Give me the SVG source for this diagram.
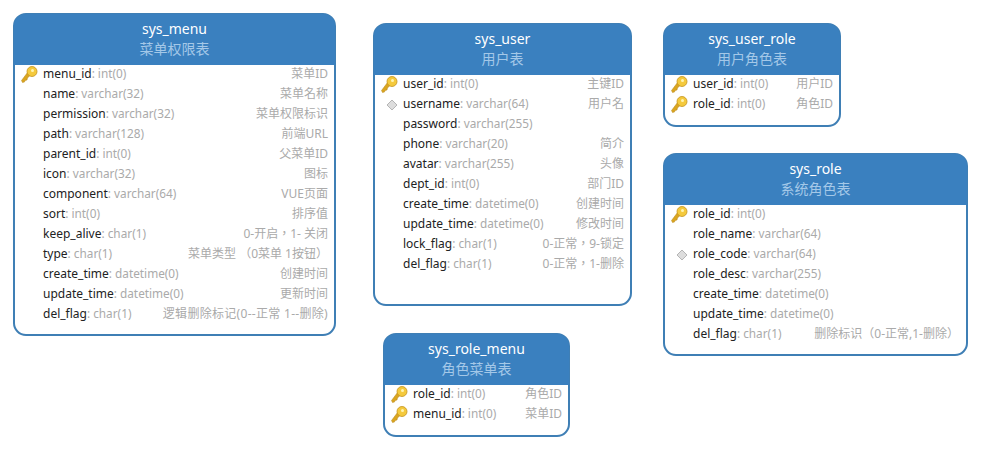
<svg xmlns="http://www.w3.org/2000/svg" width="981" height="450" viewBox="0 0 981 450">
<style>
text{font-family:"Noto Sans","Noto Sans CJK TC",sans-serif;font-size:12px;font-variant-ligatures:none}
.box{fill:#fff;stroke:#3f7fb5;stroke-width:2}
.head{fill:#3a80bf}
.title{font-size:14px;fill:#fff;text-anchor:middle}
.sub{font-size:14px;fill:#a4c8e8;text-anchor:middle}
.f{fill:#222}
.f tspan{fill:#aaa;font-size:11.800px}
.c{fill:#aaa;text-anchor:end}
.w{letter-spacing:.3px}
</style>
<defs>
<g id="key">
<path d="M-7.500 6.500L-6.500 8.500L-4.500 8L-4 6.500L-2 6L-1.500 4L1 1.500L-1.500-1.500Z" fill="#d9a520" stroke="#b8861a" stroke-width=".5"/>
<circle cx="3" cy="-2.500" r="5" fill="#f4c93c" stroke="#c4931c" stroke-width=".8"/>
<circle cx="3.500" cy="-3.500" r="1.500" fill="#fff3b0"/>
</g>
<path id="dia" d="M0-5L5 0L0 5L-5 0Z" fill="#ddd" stroke="#b5b5b5"/>
</defs>
<g id="connectors"/>

<g id="sys_menu">
<rect class="box" x="14" y="14" width="321" height="321" rx="12"/>
<path class="head" d="M14 65V26a12 12 0 0 1 12-12H323a12 12 0 0 1 12 12V65Z"/>
<text class="title" x="174.500" y="34">sys_menu</text>
<text class="sub" x="174.500" y="54">菜单权限表</text>
<use href="#key" x="29" y="74"/>
<text class="f" x="43" y="78">menu_id<tspan>: int(0)</tspan></text><text class="c" x="328" y="78">菜单ID</text>
<text class="f" x="43" y="98">name<tspan>: varchar(32)</tspan></text><text class="c" x="328" y="98">菜单名称</text>
<text class="f" x="43" y="118">permission<tspan>: varchar(32)</tspan></text><text class="c" x="328" y="118">菜单权限标识</text>
<text class="f" x="43" y="138">path<tspan>: varchar(128)</tspan></text><text class="c" x="328" y="138">前端URL</text>
<text class="f" x="43" y="158">parent_id<tspan>: int(0)</tspan></text><text class="c" x="328" y="158">父菜单ID</text>
<text class="f" x="43" y="178">icon<tspan>: varchar(32)</tspan></text><text class="c" x="328" y="178">图标</text>
<text class="f" x="43" y="198">component<tspan>: varchar(64)</tspan></text><text class="c" x="328" y="198">VUE页面</text>
<text class="f" x="43" y="218">sort<tspan>: int(0)</tspan></text><text class="c" x="328" y="218">排序值</text>
<text class="f" x="43" y="238">keep_alive<tspan>: char(1)</tspan></text><text class="c" x="328" y="238">0-开启，1- 关闭</text>
<text class="f" x="43" y="258">type<tspan>: char(1)</tspan></text><text class="c" x="328" y="258">菜单类型 （0菜单 1按钮）</text>
<text class="f" x="43" y="278">create_time<tspan>: datetime(0)</tspan></text><text class="c" x="328" y="278">创建时间</text>
<text class="f" x="43" y="298">update_time<tspan>: datetime(0)</tspan></text><text class="c" x="328" y="298">更新时间</text>
<text class="f" x="43" y="318">del_flag<tspan>: char(1)</tspan></text><text class="c w" x="328" y="318">逻辑删除标记(0--正常 1--删除)</text>
</g>

<g id="sys_user">
<rect class="box" x="374" y="24" width="257" height="281" rx="12"/>
<path class="head" d="M374 75V36a12 12 0 0 1 12-12H619a12 12 0 0 1 12 12V75Z"/>
<text class="title" x="502.500" y="44">sys_user</text>
<text class="sub" x="502.500" y="64">用户表</text>
<use href="#key" x="389" y="84"/>
<text class="f" x="403" y="88">user_id<tspan>: int(0)</tspan></text><text class="c" x="624" y="88">主键ID</text>
<use href="#dia" x="392" y="105"/>
<text class="f" x="403" y="108">username<tspan>: varchar(64)</tspan></text><text class="c" x="624" y="108">用户名</text>
<text class="f" x="403" y="128">password<tspan>: varchar(255)</tspan></text>
<text class="f" x="403" y="148">phone<tspan>: varchar(20)</tspan></text><text class="c" x="624" y="148">简介</text>
<text class="f" x="403" y="168">avatar<tspan>: varchar(255)</tspan></text><text class="c" x="624" y="168">头像</text>
<text class="f" x="403" y="188">dept_id<tspan>: int(0)</tspan></text><text class="c" x="624" y="188">部门ID</text>
<text class="f" x="403" y="208">create_time<tspan>: datetime(0)</tspan></text><text class="c" x="624" y="208">创建时间</text>
<text class="f" x="403" y="228">update_time<tspan>: datetime(0)</tspan></text><text class="c" x="624" y="228">修改时间</text>
<text class="f" x="403" y="248">lock_flag<tspan>: char(1)</tspan></text><text class="c" x="624" y="248">0-正常，9-锁定</text>
<text class="f" x="403" y="268">del_flag<tspan>: char(1)</tspan></text><text class="c" x="624" y="268">0-正常，1-删除</text>
</g>

<g id="sys_user_role">
<rect class="box" x="664" y="24" width="176" height="102" rx="12"/>
<path class="head" d="M664 75V36a12 12 0 0 1 12-12H828a12 12 0 0 1 12 12V75Z"/>
<text class="title" x="752" y="44">sys_user_role</text>
<text class="sub" x="752" y="64">用户角色表</text>
<use href="#key" x="679" y="84"/>
<text class="f" x="693" y="88">user_id<tspan>: int(0)</tspan></text><text class="c" x="833" y="88">用户ID</text>
<use href="#key" x="679" y="104"/>
<text class="f" x="693" y="108">role_id<tspan>: int(0)</tspan></text><text class="c" x="833" y="108">角色ID</text>
</g>

<g id="sys_role">
<rect class="box" x="664" y="154" width="303" height="201" rx="12"/>
<path class="head" d="M664 205V166a12 12 0 0 1 12-12H955a12 12 0 0 1 12 12V205Z"/>
<text class="title" x="815.500" y="174">sys_role</text>
<text class="sub" x="815.500" y="194">系统角色表</text>
<use href="#key" x="679" y="214"/>
<text class="f" x="693" y="218">role_id<tspan>: int(0)</tspan></text>
<text class="f" x="693" y="238">role_name<tspan>: varchar(64)</tspan></text>
<use href="#dia" x="682" y="255"/>
<text class="f" x="693" y="258">role_code<tspan>: varchar(64)</tspan></text>
<text class="f" x="693" y="278">role_desc<tspan>: varchar(255)</tspan></text>
<text class="f" x="693" y="298">create_time<tspan>: datetime(0)</tspan></text>
<text class="f" x="693" y="318">update_time<tspan>: datetime(0)</tspan></text>
<text class="f" x="693" y="338">del_flag<tspan>: char(1)</tspan></text><text class="c" x="959" y="338">删除标识（0-正常,1-删除）</text>
</g>

<g id="sys_role_menu">
<rect class="box" x="384" y="334" width="185" height="102" rx="12"/>
<path class="head" d="M384 385V346a12 12 0 0 1 12-12H557a12 12 0 0 1 12 12V385Z"/>
<text class="title" x="476.500" y="354">sys_role_menu</text>
<text class="sub" x="476.500" y="374">角色菜单表</text>
<use href="#key" x="399" y="394"/>
<text class="f" x="413" y="398">role_id<tspan>: int(0)</tspan></text><text class="c" x="562" y="398">角色ID</text>
<use href="#key" x="399" y="414"/>
<text class="f" x="413" y="418">menu_id<tspan>: int(0)</tspan></text><text class="c" x="562" y="418">菜单ID</text>
</g>
</svg>
